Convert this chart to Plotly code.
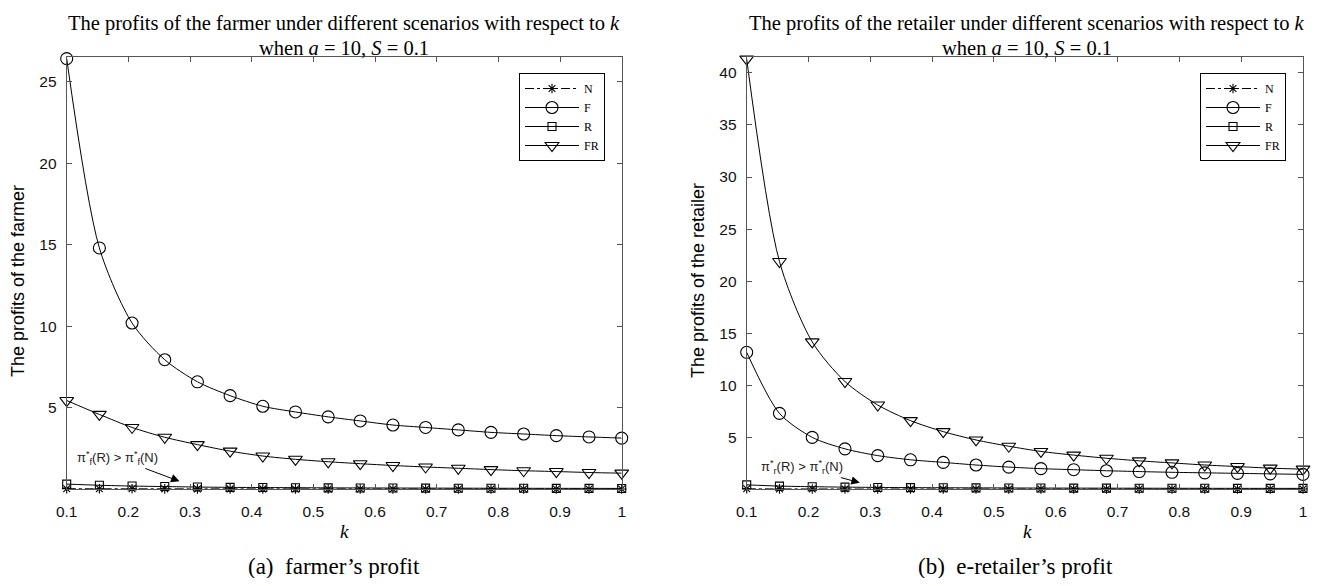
import plotly.graph_objects as go

k = [0.1, 0.153, 0.206, 0.259, 0.312, 0.365, 0.418, 0.471, 0.524,
     0.576, 0.629, 0.682, 0.735, 0.788, 0.841, 0.894, 0.947, 1.0]

# farmer's profit
farmer_N = [0.05, 0.045, 0.042, 0.04, 0.038, 0.037, 0.036, 0.035, 0.034,
            0.034, 0.033, 0.033, 0.032, 0.032, 0.031, 0.031, 0.031, 0.03]
farmer_F = [26.4, 14.8, 10.2, 7.95, 6.6, 5.75, 5.1, 4.75, 4.45,
            4.2, 3.95, 3.8, 3.65, 3.5, 3.4, 3.3, 3.22, 3.15]
farmer_R = [0.33, 0.26, 0.21, 0.18, 0.15, 0.13, 0.12, 0.11, 0.1,
            0.095, 0.09, 0.085, 0.08, 0.076, 0.073, 0.07, 0.068, 0.065]
farmer_FR = [5.45, 4.6, 3.8, 3.2, 2.75, 2.35, 2.05, 1.85, 1.7,
             1.58, 1.47, 1.38, 1.3, 1.22, 1.15, 1.1, 1.04, 1.0]

# e-retailer's profit
retailer_N = [0.12, 0.11, 0.105, 0.1, 0.1, 0.1, 0.1, 0.1, 0.1,
              0.1, 0.1, 0.1, 0.1, 0.1, 0.1, 0.1, 0.1, 0.1]
retailer_F = [13.2, 7.35, 5.05, 3.95, 3.3, 2.9, 2.65, 2.4, 2.2,
              2.05, 1.95, 1.85, 1.77, 1.7, 1.65, 1.6, 1.55, 1.5]
retailer_R = [0.5, 0.38, 0.32, 0.28, 0.25, 0.23, 0.22, 0.21, 0.2,
              0.19, 0.185, 0.18, 0.175, 0.17, 0.165, 0.162, 0.16, 0.158]
retailer_FR = [41.3, 21.9, 14.2, 10.4, 8.15, 6.65, 5.6, 4.8, 4.2,
               3.7, 3.35, 3.05, 2.8, 2.6, 2.4, 2.25, 2.1, 2.0]

x_ticks = [0.1, 0.2, 0.3, 0.4, 0.5, 0.6, 0.7, 0.8, 0.9, 1]
x_ticktext = ["0.1", "0.2", "0.3", "0.4", "0.5", "0.6", "0.7", "0.8", "0.9", "1"]
farmer_yticks = [5, 10, 15, 20, 25]
retailer_yticks = [5, 10, 15, 20, 25, 30, 35, 40]

series_names = ["N", "F", "R", "FR"]
styles = {
    "N": dict(symbol="asterisk-open", size=8, dash="dashdot"),
    "F": dict(symbol="circle-open", size=12, dash="solid"),
    "R": dict(symbol="square-open", size=8, dash="solid"),
    "FR": dict(symbol="triangle-down-open", size=12, dash="solid"),
}

# page body has an 8px margin; figure coordinates = target pixel - 8
OFF = 8
W, H = 1304, 570


def px(tx):
    return (tx - OFF) / W


def py(ty):
    return 1 - (ty - OFF) / H


fig = go.Figure()

panels = [
    ("x", "y", [farmer_N, farmer_F, farmer_R, farmer_FR], "legend"),
    ("x2", "y2", [retailer_N, retailer_F, retailer_R, retailer_FR], "legend2"),
]
for xa, ya, data, lg in panels:
    for name, vals in zip(series_names, data):
        st = styles[name]
        fig.add_trace(go.Scatter(
            x=k, y=vals, name=name, xaxis=xa, yaxis=ya,
            mode="lines+markers",
            line=dict(color="black", width=1, dash=st["dash"], shape="spline", smoothing=0.8),
            marker=dict(symbol=st["symbol"], size=st["size"], color="black",
                        line=dict(color="black", width=1.1)),
            showlegend=True, legend=lg, cliponaxis=False,
        ))

yd = [py(489), py(57)]
axis_common = dict(
    showline=True, linecolor="#555555", linewidth=1, mirror="ticks",
    ticks="inside", ticklen=5, tickcolor="#555555", showgrid=False, zeroline=False,
    automargin=False,
    tickfont=dict(family="Liberation Sans, Arial", size=15.5, color="#111111"),
)
legend_common = dict(
    xanchor="right", yanchor="top", bordercolor="black", borderwidth=1, bgcolor="white",
    font=dict(family="Liberation Serif, Times New Roman", size=12, color="black"),
    tracegroupgap=0, itemwidth=54,
)
fig.update_layout(
    width=W, height=H, margin=dict(l=0, r=0, t=0, b=0, pad=0), autosize=False,
    paper_bgcolor="white", plot_bgcolor="white",
    xaxis=dict(domain=[px(66.7), px(621.7)], range=[0.1, 1], tickvals=x_ticks,
               ticktext=x_ticktext, anchor="y", ticklabelstandoff=8, **axis_common),
    yaxis=dict(domain=yd, range=[0.03, 26.5], tickvals=farmer_yticks, anchor="x",
               ticklabelstandoff=6, **axis_common),
    xaxis2=dict(domain=[px(746.7), px(1303)], range=[0.1, 1], tickvals=x_ticks,
                ticktext=x_ticktext, anchor="y2", ticklabelstandoff=8, **axis_common),
    yaxis2=dict(domain=yd, range=[0.1, 41.5], tickvals=retailer_yticks, anchor="x2",
                ticklabelstandoff=6, **axis_common),
    legend=dict(x=px(605), y=py(73), **legend_common),
    legend2=dict(x=px(1286), y=py(73), **legend_common),
)

serif = "Liberation Serif, Times New Roman"
sans = "Liberation Sans, Arial"


def note(tx, ty, text, font, angle=0):
    fig.add_annotation(x=px(tx), y=py(ty), xref="paper", yref="paper", text=text,
                       xanchor="center", yanchor="middle", textangle=angle,
                       showarrow=False, font=font)


titles = [
    (344, "The profits of the farmer under different scenarios with respect to <i>k</i>"),
    (1027, "The profits of the retailer under different scenarios with respect to <i>k</i>"),
]
for cx, t in titles:
    note(cx, 24, t, dict(family=serif, size=20.5, color="black"))
    note(cx, 48, "when <i>a</i> = 10, <i>S</i> = 0.1", dict(family=serif, size=20.5, color="black"))
    note(cx, 531, "<i>k</i>", dict(family=serif, size=19, color="black"))

note(334, 566, "(a)  farmer’s profit", dict(family=serif, size=23, color="black"))
note(1015, 566, "(b)  e-retailer’s profit", dict(family=serif, size=23, color="black"))
note(18, 281, "The profits of the farmer", dict(family=sans, size=18, color="black"), -90)
note(698, 281, "The profits of the retailer", dict(family=sans, size=18, color="black"), -90)

# arrows
fig.add_annotation(x=0.283, y=0.5, xref="x", yref="y", ax=0.182, ay=1.93, axref="x", ayref="y",
                   text="π<sup>*</sup><sub>f</sub>(R) > π<sup>*</sup><sub>f</sub>(N)",
                   showarrow=True, arrowhead=2, arrowsize=1.7, arrowwidth=1, arrowcolor="black",
                   font=dict(family=sans, size=13, color="#222222"))
fig.add_annotation(x=0.283, y=0.7, xref="x2", yref="y2", ax=0.19, ay=2.2, axref="x2", ayref="y2",
                   text="π<sup>*</sup><sub>r</sub>(R) > π<sup>*</sup><sub>r</sub>(N)",
                   showarrow=True, arrowhead=2, arrowsize=1.7, arrowwidth=1, arrowcolor="black",
                   font=dict(family=sans, size=13, color="#222222"))

fig.write_html("out.html")
